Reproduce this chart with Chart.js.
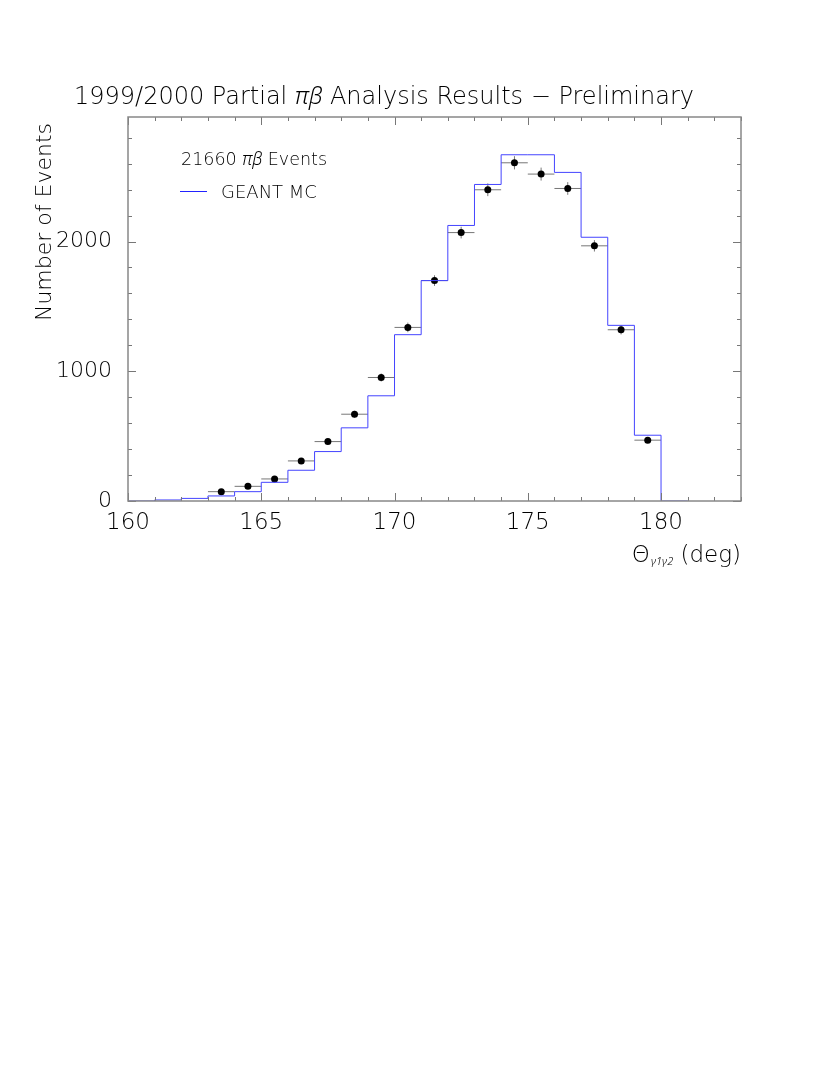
<!DOCTYPE html>
<html>
<head>
<meta charset="utf-8">
<script src="https://cdn.jsdelivr.net/npm/chart.js@4/dist/chart.umd.min.js"></script>
<style>
html,body{margin:0;padding:0;background:#fff;}
#wrap{width:830px;height:1075px;position:relative;}
</style>
</head>
<body>
<div id="wrap"><canvas id="c" width="830" height="1075"></canvas></div>
<script>
// ---- data ----
const binEdges = [160,161,162,163,164,165,166,167,168,169,170,171,172,173,174,175,176,177,178,179,180,181];
const mcCounts = [0,8,20,39,72,144,237,381,564,811,1282,1699,2124,2440,2669,2669,2533,2033,1354,507,0,0];
const dataCenters = [163.5,164.5,165.5,166.5,167.5,168.5,169.5,170.5,171.5,172.5,173.5,174.5,175.5,176.5,177.5,178.5,179.5];
const dataCounts = [72,113,170,309,458,669,952,1338,1699,2069,2399,2607,2520,2409,1967,1320,469];
const dataErrors = [9,11,13,18,21,26,31,37,41,45,49,51,50,49,44,36,22];
const xTickLabels = [160,165,170,175,180];
const yTickLabels = [0,1000,2000];
const titleParts = [["1999/2000 Partial ",false],["πβ",true],[" Analysis Results − Preliminary",false]];
const legendLine1 = [["21660 ",false],["πβ",true],[" Events",false]];
const legendLine2 = "GEANT MC";
const yTitle = "Number of Events";

const FONT = "'DejaVu Sans'";
const GFONT = "'Noto Sans', 'DejaVu Sans'";
const FW = "300";

const mcData = binEdges.map((x,i)=>({x:x,y:mcCounts[i]}));
const ptData = dataCenters.map((x,i)=>({x:x,y:dataCounts[i]}));

function fnt(it,size){return it ? ('italic 300 '+size+'px '+GFONT) : (FW+' '+size+'px '+FONT);}
function drawParts(ctx, parts, x, y, size, align){
  let total = 0;
  const widths = parts.map(p=>{ctx.font=fnt(p[1],size); const w=ctx.measureText(p[0]).width; total+=w; return w;});
  let cx = align==='center' ? x-total/2 : (align==='right'? x-total : x);
  parts.forEach((p,i)=>{ctx.font=fnt(p[1],size); ctx.textAlign='left'; ctx.fillText(p[0],cx,y); cx+=widths[i];});
}

const deco = {
  id:'deco',
  beforeDraw(chart){
    const ctx=chart.ctx; ctx.save(); ctx.fillStyle='#fff'; ctx.fillRect(0,0,chart.width,chart.height); ctx.restore();
  },
  beforeDatasetsDraw(chart){
    const ctx=chart.ctx, xs=chart.scales.x, ys=chart.scales.y;
    ctx.save();
    ctx.strokeStyle='#777'; ctx.lineWidth=1;
    dataCenters.forEach((c,i)=>{
      const px=xs.getPixelForValue(c), py=ys.getPixelForValue(dataCounts[i]);
      ctx.beginPath();
      ctx.moveTo(xs.getPixelForValue(c-0.5),py); ctx.lineTo(xs.getPixelForValue(c+0.5),py);
      ctx.moveTo(px,ys.getPixelForValue(dataCounts[i]-dataErrors[i])); ctx.lineTo(px,ys.getPixelForValue(dataCounts[i]+dataErrors[i]));
      ctx.stroke();
    });
    ctx.restore();
  },
  afterDraw(chart){
    const ctx=chart.ctx, xs=chart.scales.x, ys=chart.scales.y, a=chart.chartArea;
    ctx.save();
    // ticks
    ctx.strokeStyle='#777'; ctx.lineWidth=1;
    ctx.beginPath();
    for(let v=0; v<=ys.max; v+=200){
      const py=Math.round(ys.getPixelForValue(v))+0.5;
      const L = (v%1000===0)?8:4;
      ctx.moveTo(a.left,py); ctx.lineTo(a.left+L,py);
      ctx.moveTo(a.right,py); ctx.lineTo(a.right-L,py);
    }
    for(let v=xs.min; v<=xs.max; v+=1){
      const px=Math.round(xs.getPixelForValue(v))+0.5;
      const L = (v%5===0)?8:4;
      ctx.moveTo(px,a.bottom); ctx.lineTo(px,a.bottom-L);
      ctx.moveTo(px,a.top); ctx.lineTo(px,a.top+L);
    }
    ctx.stroke();
    // frame
    ctx.strokeStyle='#888'; ctx.lineWidth=1.5;
    ctx.strokeRect(a.left,a.top,a.right-a.left,a.bottom-a.top);
    // title
    ctx.fillStyle='#000'; ctx.textBaseline='alphabetic';
    drawParts(ctx,titleParts,384,104,24,'center');
    // legend
    drawParts(ctx,legendLine1,181,165,17.5,'left');
    ctx.strokeStyle='#2222ff'; ctx.lineWidth=1;
    ctx.beginPath(); ctx.moveTo(180,191.5); ctx.lineTo(207,191.5); ctx.stroke();
    drawParts(ctx,[[legendLine2,false]],221,198,18,'left');
    // y title
    ctx.save(); ctx.translate(51,222); ctx.rotate(-Math.PI/2);
    drawParts(ctx,[[yTitle,false]],0,0,22,'center');
    ctx.restore();
    // x title
    ctx.font=fnt(false,23);
    const t3=' (deg)'; const w3=ctx.measureText(t3).width;
    ctx.font=fnt(true,11);
    const sub='γ1γ2'; const w2=ctx.measureText(sub).width;
    ctx.font=fnt(false,23);
    const w1=ctx.measureText('Θ').width;
    let xr=740, base=562;
    let x0=xr-w3-w2-w1;
    ctx.textAlign='left';
    ctx.fillText('Θ',x0,base);
    ctx.font=fnt(true,11); ctx.fillText(sub,x0+w1+1,base+3);
    ctx.font=fnt(false,23); ctx.fillText(t3,x0+w1+w2+1,base);
    ctx.restore();
  }
};

new Chart(document.getElementById('c'),{
  data:{datasets:[
    {type:'line',label:'GEANT MC',data:mcData,stepped:'before',borderColor:'#4444ff',borderWidth:1,pointRadius:0,fill:false,tension:0},
    {type:'scatter',label:'Data',data:ptData,pointRadius:3.5,pointBackgroundColor:'#000',pointBorderColor:'#000',pointBorderWidth:0}
  ]},
  options:{
    responsive:false,animation:false,devicePixelRatio:1,
    layout:{padding:{left:0,top:117,right:89,bottom:534}},
    plugins:{legend:{display:false},tooltip:{enabled:false},title:{display:false}},
    scales:{
      x:{type:'linear',min:160,max:183,
        grid:{display:false},border:{display:false},
        afterFit(s){s.height=40;},
        afterBuildTicks(s){s.ticks=xTickLabels.map(v=>({value:v}));},
        ticks:{padding:0,maxRotation:0,autoSkip:false,color:'#000',font:{family:"DejaVu Sans",size:23,weight:FW},callback:v=>String(v)}},
      y:{type:'linear',min:0,max:2960,
        grid:{display:false},border:{display:false},
        afterFit(s){s.width=128;},
        afterBuildTicks(s){s.ticks=yTickLabels.map(v=>({value:v}));},
        ticks:{padding:8,color:'#000',font:{family:"DejaVu Sans",size:22,weight:FW},callback:v=>String(v)}}
    }
  },
  plugins:[deco]
});
</script>
</body>
</html>
